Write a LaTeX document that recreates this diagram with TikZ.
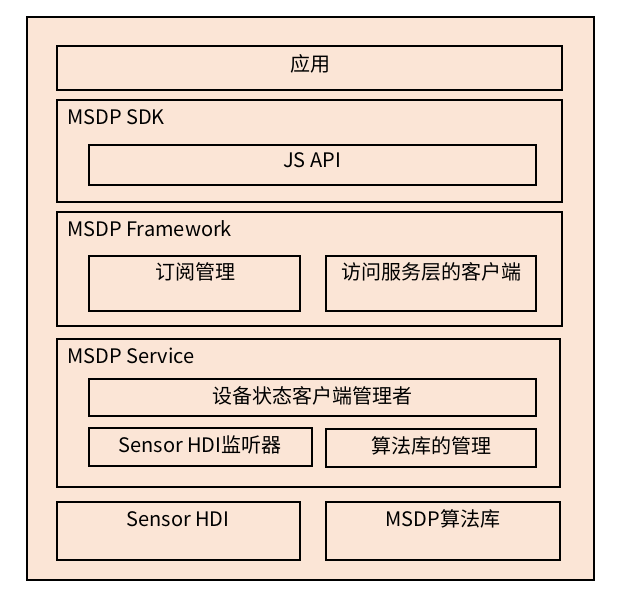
\documentclass[tikz,border=0pt]{standalone}
\usepackage{fontspec}
\setmainfont{Noto Sans CJK SC}
\definecolor{peach}{HTML}{FBE5D6}
\tikzset{
  box/.style={line width=1.1pt},
  lbl/.style={inner sep=0pt,anchor=mid,font=\fontsize{20}{24}\selectfont},
  ttl/.style={lbl,anchor=mid west}
}
\begin{document}
\begin{tikzpicture}[x=1pt,y=-1pt]
\useasboundingbox (0,0) rectangle (626,602);
\fill[peach] (27,17) rectangle (594,580);
\draw[box] (27,17) rectangle (594,580);
% layers
\draw[box] (57,46) rectangle (562,90);
\draw[box] (57,100) rectangle (562,202);
\draw[box] (57,212) rectangle (562,326);
\draw[box] (57,339) rectangle (560,487);
\draw[box] (57,502) rectangle (300,560);
\draw[box] (326,502) rectangle (560,560);
% inner boxes
\draw[box] (89,145) rectangle (536,185);
\draw[box] (89,256) rectangle (300,311);
\draw[box] (326,256) rectangle (536,311);
\draw[box] (89,379) rectangle (536,416);
\draw[box] (89,428) rectangle (312,466);
\draw[box] (326,429) rectangle (536,467);
% texts
\node[lbl] (app) at (310,69) {应用};
\node[ttl] (sdk) at (67,122) {MSDP SDK};
\node[lbl] (jsapi) at (312,165) {JS API};
\node[ttl] (fw) at (67,234) {MSDP Framework};
\node[lbl] (sub) at (195,277) {订阅管理};
\node[lbl] (client) at (431,277) {访问服务层的客户端};
\node[ttl] (svc) at (67,361) {MSDP Service};
\node[lbl] (devmgr) at (312,401) {设备状态客户端管理者};
\node[lbl] (listener) at (200,450) {Sensor HDI监听器};
\node[lbl] (algmgr) at (431,451) {算法库的管理};
\node[lbl] (hdi) at (178,524) {Sensor HDI};
\node[lbl] (alglib) at (443,524) {MSDP算法库};
\end{tikzpicture}
\end{document}
